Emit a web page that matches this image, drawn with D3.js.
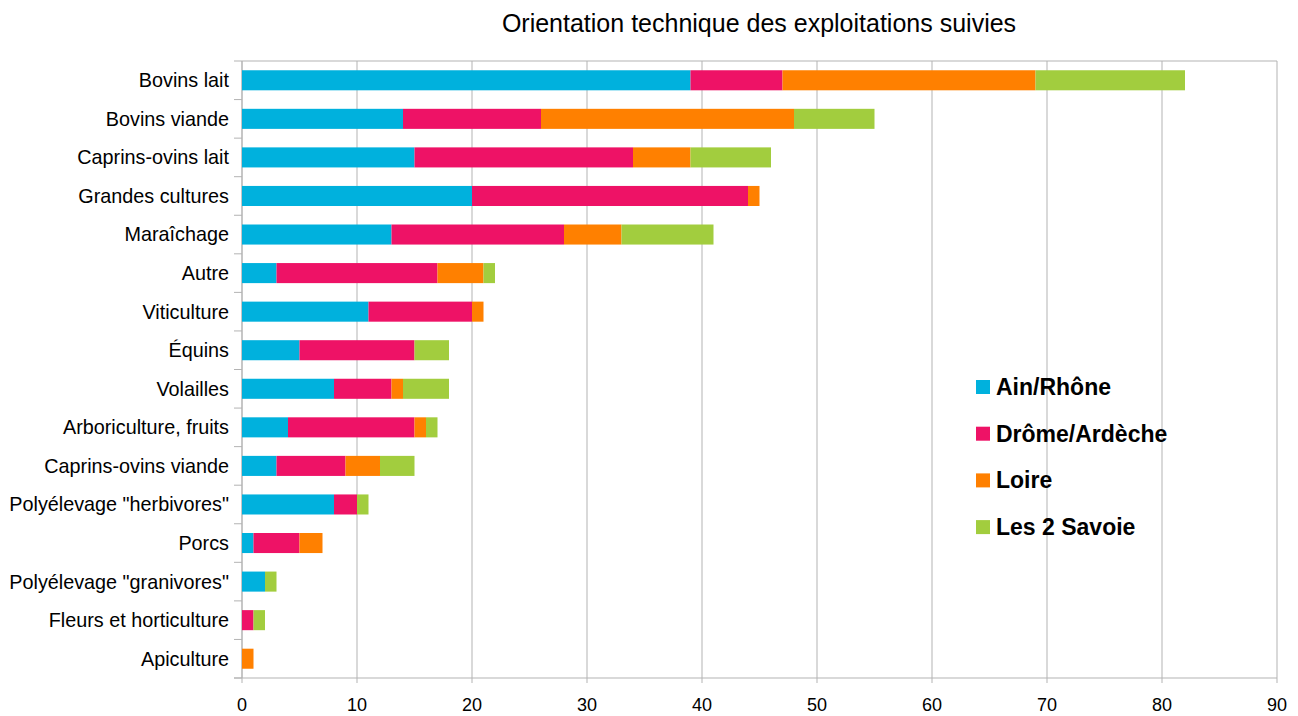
<!DOCTYPE html>
<html>
<head>
<meta charset="utf-8">
<script src="https://cdn.jsdelivr.net/npm/d3@7"></script>
<style>
  body { margin: 0; background: #fff; }
  text { font-family: "Liberation Sans", Arial, sans-serif; }
</style>
</head>
<body>
<svg width="1298" height="716"></svg>
<script>
// categories (top to bottom)
const categories = ["Bovins lait", "Bovins viande", "Caprins-ovins lait", "Grandes cultures",
  "Maraîchage", "Autre", "Viticulture", "Équins", "Volailles", "Arboriculture, fruits",
  "Caprins-ovins viande", "Polyélevage \"herbivores\"", "Porcs", "Polyélevage \"granivores\"",
  "Fleurs et horticulture", "Apiculture"];

const series = ["Ain/Rhône", "Drôme/Ardèche", "Loire", "Les 2 Savoie"];

// values per series, same order as categories
const ainRhone     = [39, 14, 15, 20, 13, 3, 11, 5, 8, 4, 3, 8, 1, 2, 0, 0];
const dromeArdeche = [8, 12, 19, 24, 15, 14, 9, 10, 5, 11, 6, 2, 4, 0, 1, 0];
const loire        = [22, 22, 5, 1, 5, 4, 1, 0, 1, 1, 3, 0, 2, 0, 0, 1];
const savoie       = [13, 7, 7, 0, 8, 1, 0, 3, 4, 1, 3, 1, 0, 1, 1, 0];

const xTicks = [0, 10, 20, 30, 40, 50, 60, 70, 80, 90];

let colors = d3.scaleOrdinal()
  .domain(series)
  .range(["#00b1dd", "#ee1266", "#ff8000", "#a2cd3e"]);

let svg = d3.select("svg"),
  margin = { top: 61, right: 21, bottom: 38, left: 242 },
  width = svg.attr("width") - margin.left - margin.right,
  height = svg.attr("height") - margin.top - margin.bottom,
  g = svg.append("g").attr("transform", "translate(" + margin.left + "," + margin.top + ")");

// build rows for the stack
let data = categories.map(function (c, i) {
  return {
    cat: c,
    "Ain/Rhône": ainRhone[i],
    "Drôme/Ardèche": dromeArdeche[i],
    "Loire": loire[i],
    "Les 2 Savoie": savoie[i]
  };
});
let stacked = d3.stack().keys(series)(data);

let x = d3.scaleLinear().domain([0, 90]).range([0, width]);
let y = d3.scaleBand().domain(categories).range([0, height]).paddingInner(0.48).paddingOuter(0.24);
let yBand = d3.scaleBand().domain(categories).range([0, height]);

// gridlines
g.selectAll(".grid")
  .data(xTicks)
  .enter().append("line")
  .attr("x1", d => x(d)).attr("x2", d => x(d))
  .attr("y1", 0).attr("y2", height + 5)
  .attr("stroke", "#b3b3b3").attr("stroke-width", 1);

g.append("line")
  .attr("x1", 0).attr("x2", width)
  .attr("y1", 0).attr("y2", 0)
  .attr("stroke", "#b3b3b3");

// left axis ticks on category boundaries
let bounds = categories.map(c => yBand(c)).concat([height]);
g.selectAll(".ytick")
  .data(bounds)
  .enter().append("line")
  .attr("x1", -8).attr("x2", 0)
  .attr("y1", d => d).attr("y2", d => d)
  .attr("stroke", "#b3b3b3");

g.append("line")
  .attr("x1", 0).attr("x2", 0)
  .attr("y1", 0).attr("y2", height)
  .attr("stroke", "#b3b3b3");

g.append("line")
  .attr("x1", -8).attr("x2", width)
  .attr("y1", height).attr("y2", height)
  .attr("stroke", "#b3b3b3");

// bars
g.selectAll(".layer")
  .data(stacked)
  .enter().append("g")
  .attr("fill", d => colors(d.key))
  .selectAll("rect")
  .data(d => d)
  .enter().append("rect")
  .attr("x", d => x(d[0]))
  .attr("y", d => y(d.data.cat))
  .attr("width", d => x(d[1]) - x(d[0]))
  .attr("height", y.bandwidth());

// category labels
g.selectAll(".catlabel")
  .data(categories)
  .enter().append("text")
  .attr("x", -13)
  .attr("y", d => yBand(d) + yBand.bandwidth() / 2)
  .attr("dy", "0.35em")
  .attr("text-anchor", "end")
  .attr("font-size", 19.8)
  .attr("fill", "#000")
  .text(d => d);

// x tick labels
g.selectAll(".xlabel")
  .data(xTicks)
  .enter().append("text")
  .attr("x", d => x(d))
  .attr("y", height + 27)
  .attr("dy", "0.35em")
  .attr("text-anchor", "middle")
  .attr("font-size", 18)
  .text(d => d);

// title
svg.append("text")
  .attr("x", 759)
  .attr("y", 23)
  .attr("dy", "0.35em")
  .attr("text-anchor", "middle")
  .attr("font-size", 25)
  .text("Orientation technique des exploitations suivies");

// legend
let legend = svg.append("g")
  .selectAll("g")
  .data(series)
  .enter().append("g")
  .attr("transform", (d, i) => "translate(976," + (387 + i * 46.7) + ")");
legend.append("rect")
  .attr("x", 0).attr("y", -7)
  .attr("width", 14).attr("height", 14)
  .attr("fill", colors);
legend.append("text")
  .attr("x", 20)
  .attr("dy", "0.35em")
  .attr("font-size", 23)
  .attr("font-weight", "bold")
  .text(d => d);
</script>
</body>
</html>
